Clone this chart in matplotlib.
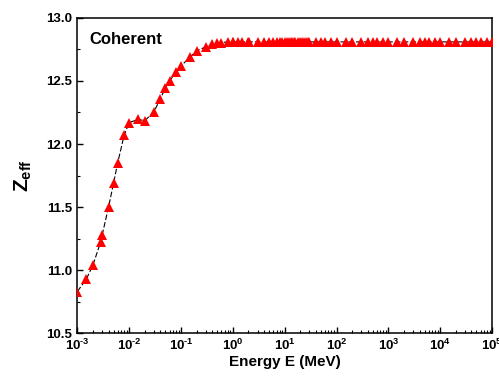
import numpy as np
import matplotlib
matplotlib.use("Agg")
import matplotlib.pyplot as plt
from matplotlib.ticker import (LogLocator, MultipleLocator, NullFormatter,
                               FuncFormatter, FormatStrFormatter)

plt.rcParams["font.family"] = ["Liberation Sans", "DejaVu Sans"]
plt.rcParams["font.weight"] = "bold"
plt.rcParams["mathtext.fontset"] = "custom"
plt.rcParams["mathtext.rm"] = "Liberation Sans:bold"
plt.rcParams["mathtext.bf"] = "Liberation Sans:bold"
plt.rcParams["mathtext.default"] = "bf"

energy = [1e-3, 1.5e-3, 2e-3, 2.8e-3, 3e-3, 4e-3, 5e-3, 6e-3, 8e-3, 1e-2,
          1.5e-2, 2e-2, 3e-2, 4e-2, 5e-2, 6e-2, 8e-2, 0.1, 0.15, 0.2, 0.3,
          0.4, 0.5, 0.6, 0.8, 1, 1.022, 1.25, 1.5, 2, 2.044, 3, 4, 5, 6, 7,
          8, 9, 10, 11, 12, 13, 14, 15, 16, 18, 20, 22, 24, 26, 28, 30, 40,
          50, 60, 80, 100, 150, 200, 300, 400, 500, 600, 800, 1000, 1500,
          2000, 3000, 4000, 5000, 6000, 8000, 1e4, 1.5e4, 2e4, 3e4, 4e4,
          5e4, 6e4, 8e4, 1e5]
zeff_head = [10.83, 10.93, 11.04, 11.22, 11.275, 11.50, 11.69, 11.85, 12.07,
             12.17, 12.195, 12.185, 12.255, 12.36, 12.445, 12.50, 12.57,
             12.62, 12.69, 12.74, 12.77, 12.79, 12.80, 12.805]
zeff_tail = [12.81] * (len(energy) - len(zeff_head))
zeff = zeff_head + zeff_tail


def log_label(v, pos):
    e = int(round(np.log10(v)))
    sup = r"\text{-}%d" % -e if e < 0 else "%d" % e
    return r"$\mathbf{10^{%s}}$" % sup


fig, ax = plt.subplots(figsize=(4.99, 3.82), dpi=100)
fig.subplots_adjust(left=0.155, right=0.986, top=0.953, bottom=0.128)

ax.plot(energy, zeff, color="black", lw=0.8, ls=(0, (5, 2)), zorder=2)
ax.plot(energy, zeff, ls="none", marker="^", color="red", ms=7.5,
        markeredgewidth=0, zorder=3)

ax.set_xscale("log")
ax.set_xlim(1e-3, 1e5)
ax.set_ylim(10.5, 13.0)
ax.xaxis.set_major_locator(LogLocator(base=10, numticks=20))
ax.xaxis.set_minor_locator(LogLocator(base=10, subs=range(2, 10), numticks=20))
ax.xaxis.set_minor_formatter(NullFormatter())
ax.xaxis.set_major_formatter(FuncFormatter(log_label))
ax.yaxis.set_major_locator(MultipleLocator(0.5))
ax.yaxis.set_minor_locator(MultipleLocator(0.25))
ax.yaxis.set_major_formatter(FormatStrFormatter("%.1f"))

ax.tick_params(which="both", direction="in", top=False, right=False,
               labelsize=9.5)
ax.tick_params(which="major", length=4, width=1)
ax.tick_params(which="minor", length=2, width=0.8)
for s in ax.spines.values():
    s.set_linewidth(1.1)

ax.set_xlabel("Energy E (MeV)", fontsize=11, fontweight="bold", labelpad=1)
ax.set_ylabel(r"Z$_{\mathbf{eff}}$", fontsize=15, fontweight="bold", labelpad=9)
ax.text(0.03, 0.955, "Coherent", transform=ax.transAxes, fontsize=12,
        fontweight="bold", va="top")

fig.savefig("out.png", dpi=100)
